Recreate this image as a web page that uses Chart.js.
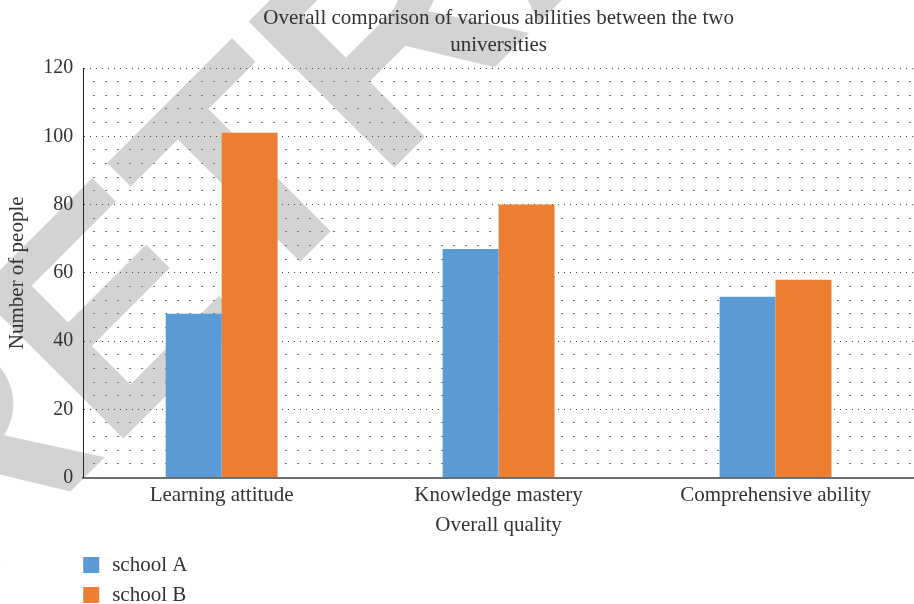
<!DOCTYPE html>
<html>
<head>
<meta charset="utf-8">
<script src="https://cdn.jsdelivr.net/npm/chart.js@4"></script>
<style>
  html, body { margin: 0; padding: 0; background: #fff; }
  #wrap { width: 914px; height: 604px; }
</style>
</head>
<body>
<div id="wrap"><canvas id="abilityChart"></canvas></div>
<script>
const categories = ['Learning attitude', 'Knowledge mastery', 'Comprehensive ability'];
const seriesNames = ['school A', 'school B'];
const schoolA = [48, 67, 53];
const schoolB = [101, 80, 58];
const titleLines = ['Overall comparison of various abilities between the two', 'universities'];
const yMax = 120;
const yMajorStep = 20;
const yMinorStep = 4;

const serif = "'Liberation Serif', 'DejaVu Serif', serif";
const textColor = '#333';

// watermark, title and the stacked legend are drawn by hand
const decorations = {
    id: 'decorations',
    beforeDraw(chart) {
        const ctx = chart.ctx;
        ctx.save();
        ctx.fillStyle = '#d3d3d3';
        ctx.font = "bold 300px 'Liberation Sans'";
        ctx.translate(-44, 606);
        ctx.rotate(-45 * Math.PI / 180);
        ctx.fillText('RETRACTED', 0, 0);
        ctx.restore();
    },
    afterDraw(chart) {
        const ctx = chart.ctx;
        const area = chart.chartArea;
        ctx.save();
        ctx.fillStyle = textColor;
        ctx.font = '21px ' + serif;
        ctx.textAlign = 'center';
        ctx.textBaseline = 'middle';
        const cx = (area.left + area.right) / 2;
        titleLines.forEach((line, i) => ctx.fillText(line, cx, 18 + i * 27));

        ctx.textAlign = 'left';
        chart.data.datasets.forEach((ds, i) => {
            const y = chart.height - 47 + i * 30;
            ctx.fillStyle = ds.backgroundColor;
            ctx.fillRect(area.left, y, 16, 16);
            ctx.fillStyle = textColor;
            ctx.fillText(ds.label, area.left + 29, y + 8);
        });
        ctx.restore();
    }
};

new Chart(document.getElementById('abilityChart').getContext('2d'), {
    type: 'bar',
    data: {
        labels: categories,
        datasets: [
            { label: seriesNames[0], data: schoolA, backgroundColor: '#5b9bd5' },
            { label: seriesNames[1], data: schoolB, backgroundColor: '#ed7d31' }
        ]
    },
    options: {
        responsive: true,
        maintainAspectRatio: false,
        animation: false,
        layout: { padding: { top: 68, left: 4, right: 0, bottom: 66 } },
        datasets: { bar: { categoryPercentage: 0.404, barPercentage: 1 } },
        plugins: {
            legend: { display: false },
            title: { display: false },
            tooltip: { enabled: false }
        },
        scales: {
            x: {
                grid: { display: false, drawTicks: false },
                border: { color: '#6e6e6e', width: 2 },
                ticks: { color: textColor, font: { family: serif, size: 21 }, padding: 5 },
                title: {
                    display: true, text: 'Overall quality', color: textColor,
                    font: { family: serif, size: 21 }, padding: { top: 0, bottom: 0 }
                }
            },
            y: {
                min: 0, max: yMax,
                ticks: { stepSize: yMajorStep, color: textColor, font: { family: serif, size: 20 }, padding: 10 },
                grid: {
                    drawTicks: false,
                    color: c => c.tick.value === 0 ? 'transparent' : '#444',
                    lineWidth: 1
                },
                border: { color: '#222', width: 1, dash: [1, 5] },
                title: {
                    display: true, text: 'Number of people', color: textColor,
                    font: { family: serif, size: 21 }, padding: { top: 1, bottom: 3 }
                }
            },
            yMinor: {
                position: 'left',
                min: 0, max: yMax,
                ticks: { display: false, stepSize: yMinorStep },
                grid: {
                    drawTicks: false,
                    color: c => c.tick.value % yMajorStep === 0 ? 'transparent' : '#777',
                    lineWidth: 1
                },
                border: { display: false, dash: [2, 10], dashOffset: -10 }
            }
        }
    },
    plugins: [decorations]
});
</script>
</body>
</html>
